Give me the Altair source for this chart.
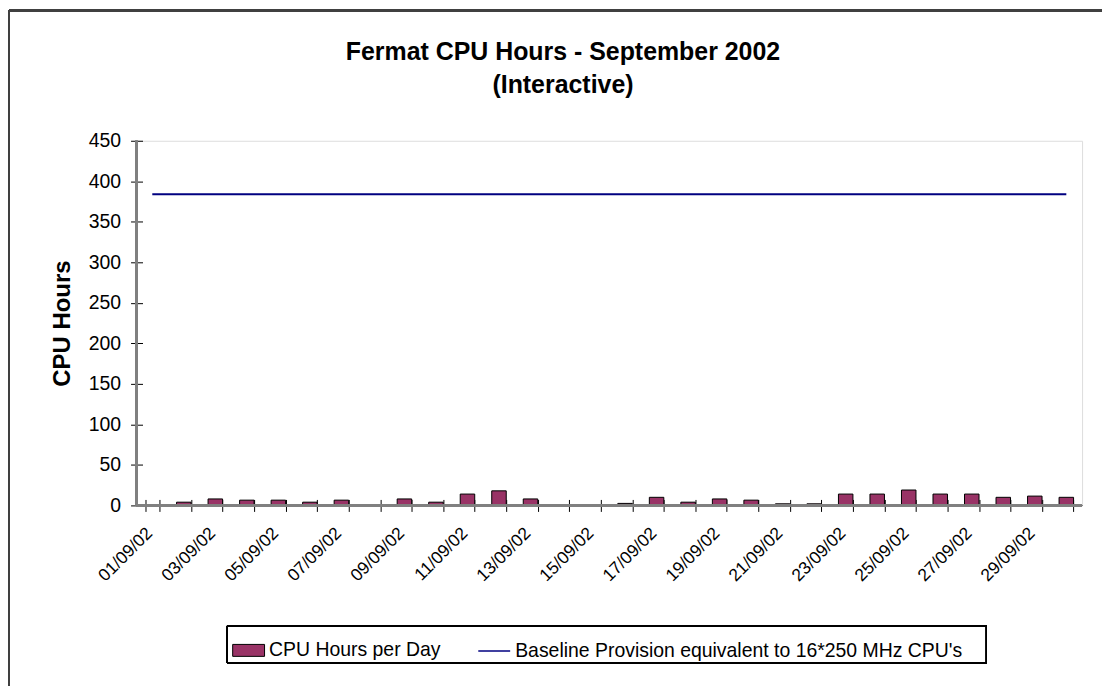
import altair as alt
import pandas as pd

FONT = "Liberation Sans"

days = ["01/09/02", "02/09/02", "03/09/02", "04/09/02", "05/09/02", "06/09/02",
        "07/09/02", "08/09/02", "09/09/02", "10/09/02", "11/09/02", "12/09/02",
        "13/09/02", "14/09/02", "15/09/02", "16/09/02", "17/09/02", "18/09/02",
        "19/09/02", "20/09/02", "21/09/02", "22/09/02", "23/09/02", "24/09/02",
        "25/09/02", "26/09/02", "27/09/02", "28/09/02", "29/09/02", "30/09/02"]
cpu_hours = [0, 4, 8, 6.5, 6.5, 4, 6.5, 0, 8, 4, 14, 18, 8, 0, 0,
             2.5, 10, 4, 8, 6.5, 2, 2, 14, 14, 19, 14, 14, 10, 11.5, 10]
baseline_hours = [384] * len(days)
series_names = ["CPU Hours per Day",
                "Baseline Provision equivalent to 16*250 MHz CPU's"]
series_colors = ["#993366", "#000080"]
y_ticks = [0, 50, 100, 150, 200, 250, 300, 350, 400, 450]

bars_df = pd.DataFrame({"day": days, "hours": cpu_hours, "series": series_names[0]})
line_df = pd.DataFrame({"day": days, "hours": baseline_hours, "series": series_names[1]})

W, H = 949, 366
LEG_Y = 495

common_legend = dict(title=None, orient="none", direction="horizontal",
                     labelFont=FONT, labelFontSize=19.5, labelColor="black",
                     labelOffset=4, labelLimit=0, symbolSize=1024, padding=0)

fill = alt.Fill("series:N",
                scale=alt.Scale(domain=[series_names[0]], range=[series_colors[0]]),
                legend=alt.Legend(legendX=96, legendY=LEG_Y,
                                  symbolType="M-1,-0.375H1V0.375H-1Z",
                                  symbolStrokeColor="black", symbolStrokeWidth=1,
                                  symbolOpacity=1, **common_legend))
stroke = alt.Stroke("series:N",
                    scale=alt.Scale(domain=[series_names[1]], range=[series_colors[1]]),
                    legend=alt.Legend(legendX=342, legendY=LEG_Y, symbolType="stroke",
                                      symbolStrokeWidth=1.5, **common_legend))

x_enc = alt.X("day:N", sort=days,
              scale=alt.Scale(paddingInner=0.54, paddingOuter=0.27),
              axis=alt.Axis(title=None, domain=False, grid=False, tickBand="extent",
                            tickSize=12, offset=-6, tickColor="black", tickWidth=1,
                            labelAngle=-45, labelAlign="right", labelBaseline="middle",
                            labelPadding=19, labelOffset=-3, labelFont=FONT,
                            labelFontSize=17.5, labelColor="black", labelOverlap=False,
                            labelExpr="toNumber(substring(datum.value, 0, 2)) % 2 === 1 ? datum.label : ''"))
y_enc = alt.Y("hours:Q", scale=alt.Scale(domain=[0, 450], nice=False),
              axis=alt.Axis(title="CPU Hours", values=y_ticks, domain=False, grid=False,
                            tickSize=12, offset=-6, tickColor="black", tickWidth=1,
                            labelPadding=10, labelFont=FONT, labelFontSize=19.5,
                            labelColor="black",
                            titleFont=FONT, titleFontSize=24, titleFontWeight="bold",
                            titleColor="black", titleAngle=-90, titleX=-80,
                            titleBaseline="middle"))

bars = alt.Chart(bars_df).mark_bar(stroke="black", strokeWidth=1).encode(
    x=x_enc, y=y_enc, fill=fill)
line = alt.Chart(line_df).mark_line(strokeWidth=1.8).encode(
    x=x_enc, y=y_enc, stroke=stroke)

xdomain = alt.Chart(bars_df).mark_rule(color="#808080", strokeWidth=1.5).encode(
    x=alt.value(0), x2=alt.value(W), y=alt.value(H))
ydomain = alt.Chart(bars_df).mark_rule(color="#808080", strokeWidth=1.5).encode(
    x=alt.value(0), y=alt.value(0), y2=alt.value(H))
# chart-area border: only its top and left edges lie inside the picture
frame_top = alt.Chart(bars_df).mark_rule(color="#404040", strokeWidth=1.8).encode(
    x=alt.value(-128), x2=alt.value(1000), y=alt.value(-131))
frame_left = alt.Chart(bars_df).mark_rule(color="#404040", strokeWidth=1.8).encode(
    x=alt.value(-128), y=alt.value(-131), y2=alt.value(600))
legend_box = alt.Chart(bars_df).mark_rect(fill="transparent", stroke="#000000", strokeWidth=1).encode(
    x=alt.value(91), x2=alt.value(853), y=alt.value(487), y2=alt.value(524))

chart = alt.layer(frame_top, frame_left, legend_box, bars, line, xdomain, ydomain).properties(
    width=W, height=H,
    autosize=alt.AutoSizeParams(type="none"),
    padding={"left": 129, "top": 132, "right": 20, "bottom": 180},
    title=alt.Title(text=["Fermat CPU Hours - September 2002", "(Interactive)"],
                    font=FONT, fontSize=25, fontWeight="bold", color="black",
                    anchor="middle", frame="group", dx=-46.5, offset=-88.75,
                    lineHeight=32.5),
).resolve_scale(fill="independent", stroke="independent"
).configure_view(stroke=None).configure(background="white")

chart.save("out.html", embed_options={"renderer": "svg", "actions": False})
